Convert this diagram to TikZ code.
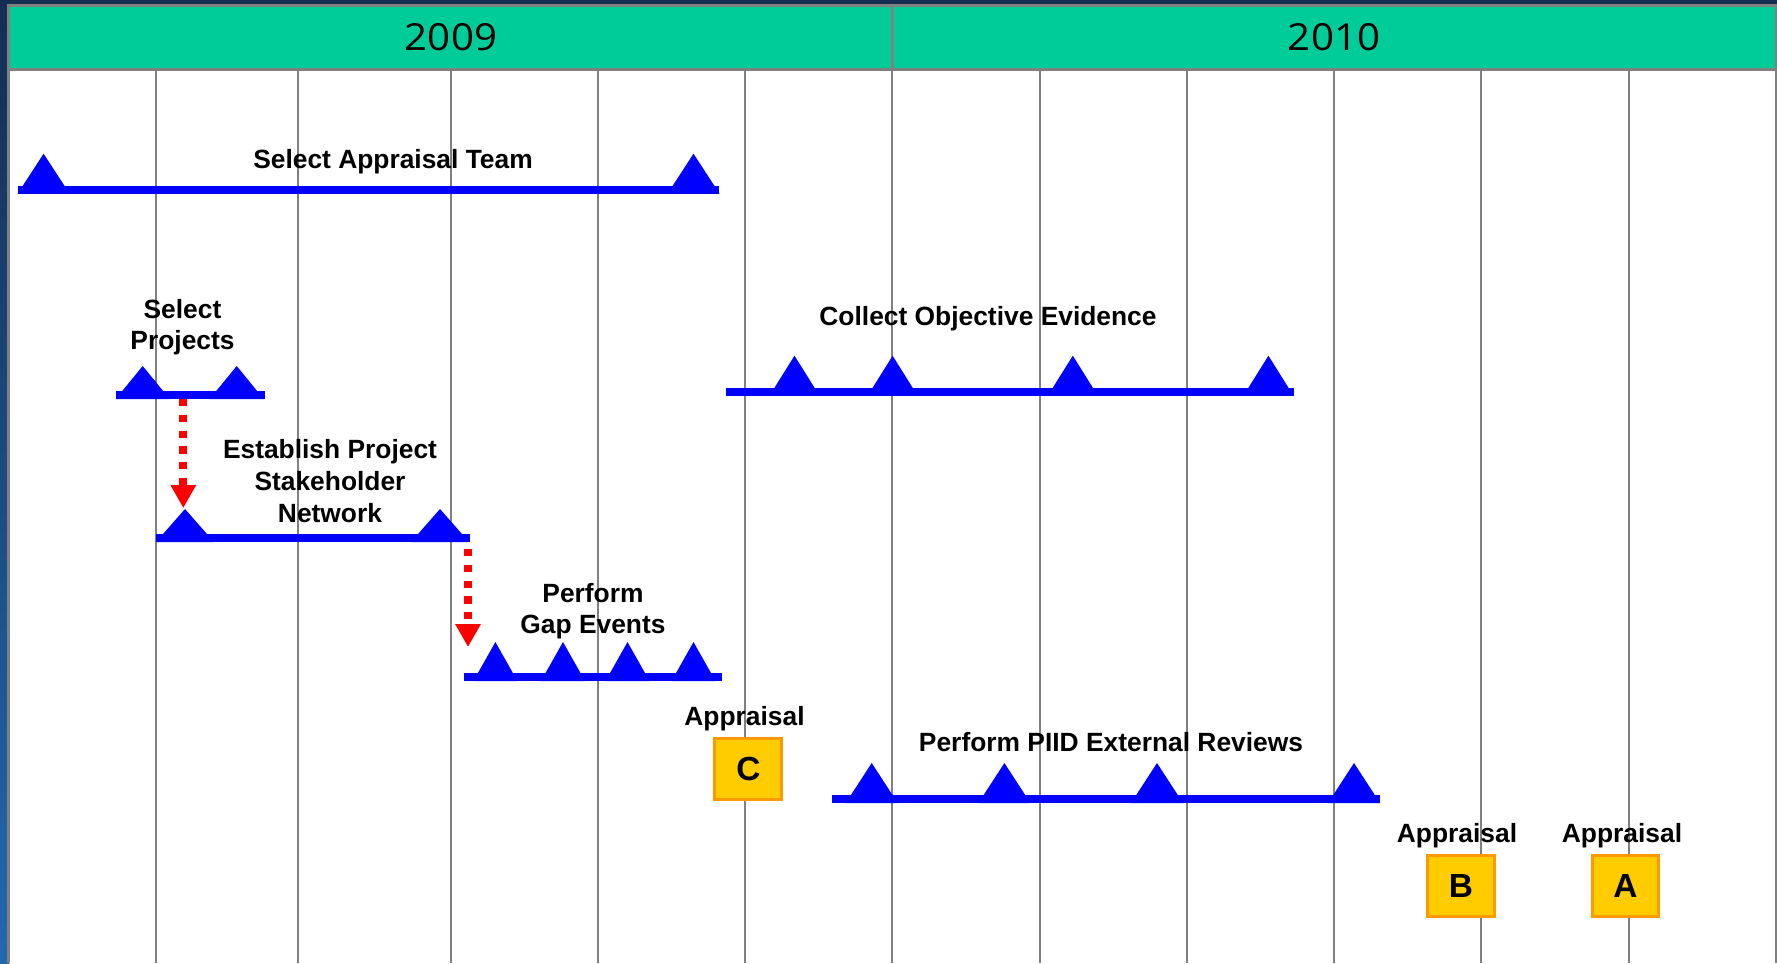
\documentclass[tikz,border=0pt]{standalone}
\usepackage{fontspec}
\setmainfont{Liberation Sans}
\newfontfamily\yearfont{Open Sans}[FakeStretch=1.08]
\usetikzlibrary{arrows.meta}

\definecolor{navy}{HTML}{132E52}
\definecolor{navylight}{HTML}{2169AF}
\definecolor{headgreen}{HTML}{00CC99}
\definecolor{rulegray}{HTML}{808080}
\definecolor{boxgold}{HTML}{FFCC00}
\definecolor{boxedge}{HTML}{FF9900}

\tikzset{
  monthline/.style = {draw=rulegray, line width=0.6pt},
  frameline/.style = {draw=rulegray, line width=0.85pt},
  taskbar/.style = {draw=blue, line width=2.28pt},
  task/.style = {font=\fontsize{7.5}{9}\selectfont\bfseries, align=center, inner sep=0pt},
  year/.style = {font=\yearfont\fontsize{10.6}{12}\selectfont, inner sep=0pt},
  depends/.style = {draw=red, line width=2.28pt, dash pattern=on 2pt off 2.5pt,
    -{Triangle[width=6.8pt,length=6.5pt]}},
  appraisal/.style = {draw=boxedge, fill=boxgold, line width=0.85pt, inner sep=0pt,
    minimum width=19pt, minimum height=17.4pt, font=\fontsize{9.5}{11}\selectfont\bfseries},
  pics/milestone/.style args = {#1/#2}{code={\fill[blue] (-#1,0) -- (0,-#2) -- (#1,0) -- cycle;}}
}

\begin{document}
\begin{tikzpicture}[x=0.01cm, y=-0.01cm]
  \useasboundingbox (0,0) rectangle (1777,963);

  % backdrop and frame
  \fill[navy] (0,0) rectangle (1777,6);
  \shade[top color=navy, bottom color=navylight] (0,0) rectangle (9,963);
  \fill[white] (8.5,5.5) rectangle (1777,963);
  \fill[headgreen] (8.5,5.5) rectangle (1776,69);
  \draw[frameline] (8.5,963) -- (8.5,5.5) -- (1776,5.5) -- (1776,963);
  \draw[frameline] (8.5,69) -- (1776,69);
  \draw[frameline] (892,5.5) -- (892,69);

  % month rules
  \foreach \x in {156,298,451,598,745,892,1040,1187,1334,1481,1629}
    \draw[monthline] (\x,70) -- (\x,963);

  \node[year] (y2009) at (451,37) {2009};
  \node[year] (y2010) at (1334,37) {2010};

  % Select Appraisal Team
  \node[task] (sat) at (393,162) {Select Appraisal Team};
  \draw[taskbar] (17.8,189.7) -- (719.3,189.7);
  \foreach \x in {43.6,693.5} \pic at (\x,193.7) {milestone=26/40};

  % Select Projects
  \node[task] (sp) at (182.5,327) {Select\\Projects};
  \draw[taskbar] (115.7,395) -- (265,395);
  \foreach \x in {142.7,236.7} \pic at (\x,399) {milestone=27/33};

  % Establish Project Stakeholder Network
  \node[task] (epsn) at (330,481) {Establish Project\\Stakeholder\\Network};
  \draw[taskbar] (156,538) -- (469.6,538);
  \foreach \x in {185,440} \pic at (\x,542) {milestone=29/33};

  % Perform Gap Events
  \node[task] (gap) at (593,611) {Perform\\Gap Events};
  \draw[taskbar] (463.8,677) -- (722,677);
  \foreach \x in {495.4,563,627.5,693.5} \pic at (\x,681) {milestone=22/39};

  % Collect Objective Evidence
  \node[task] (coe) at (988,319) {Collect Objective Evidence};
  \draw[taskbar] (726,391.7) -- (1294,391.7);
  \foreach \x in {794.5,892.6,1072.8,1268.4} \pic at (\x,395.7) {milestone=25/40};

  % Perform PIID External Reviews
  \node[task] (piid) at (1111,742) {Perform PIID External Reviews};
  \draw[taskbar] (831.8,799) -- (1380,799);
  \foreach \x in {871.7,1004.4,1157,1354} \pic at (\x,803) {milestone=26/40};

  % hand-offs
  \coordinate (sp-out) at (183.3,399);
  \coordinate (epsn-in) at (183.3,508);
  \coordinate (epsn-out) at (468,549);
  \coordinate (gap-in) at (468,647);
  \draw[depends] (sp-out) -- (epsn-in);
  \draw[depends] (epsn-out) -- (gap-in);

  % appraisals
  \node[task] (apprC-lbl) at (744.5,719) {Appraisal};
  \node[appraisal] (apprC) at (748.3,769) {C};
  \node[task] (apprB-lbl) at (1457,836) {Appraisal};
  \node[appraisal] (apprB) at (1461,886) {B};
  \node[task] (apprA-lbl) at (1622,836) {Appraisal};
  \node[appraisal] (apprA) at (1625.5,886) {A};
\end{tikzpicture}
\end{document}
